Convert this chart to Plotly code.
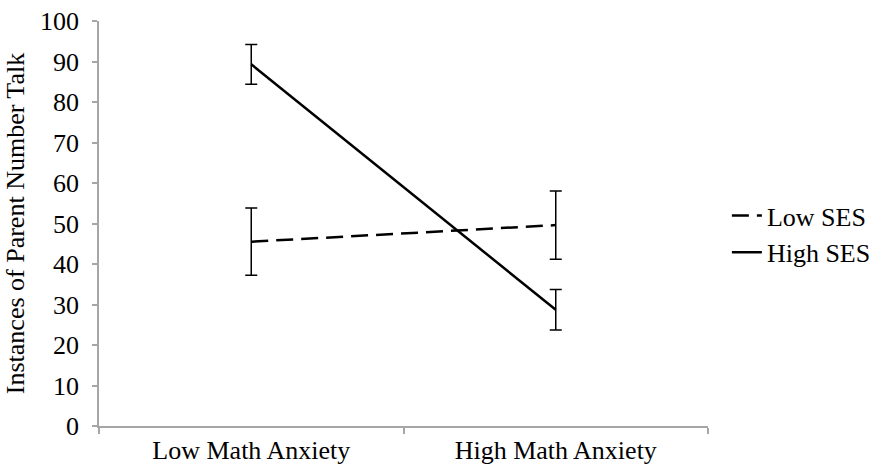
import plotly.graph_objects as go

categories = ["Low Math Anxiety", "High Math Anxiety"]
low_ses = [45.5, 49.6]
low_ses_err = [8.3, 8.4]
high_ses = [89.3, 28.7]
high_ses_err = [4.9, 5.0]
y_ticks = [0, 10, 20, 30, 40, 50, 60, 70, 80, 90, 100]

FONT = "Liberation Serif, Times New Roman, serif"
FS = 26

fig = go.Figure()
fig.add_trace(go.Scatter(
    x=categories, y=low_ses, name="Low SES", mode="lines",
    line=dict(color="black", width=2.5, dash="17px,8px"),
    error_y=dict(type="data", array=low_ses_err, visible=True,
                 color="black", thickness=1.5, width=6),
))
fig.add_trace(go.Scatter(
    x=categories, y=high_ses, name="High SES", mode="lines",
    line=dict(color="black", width=2.5),
    error_y=dict(type="data", array=high_ses_err, visible=True,
                 color="black", thickness=1.5, width=6),
))

fig.update_layout(
    width=875, height=465,
    margin=dict(l=99, r=167, t=21, b=39, autoexpand=False),
    paper_bgcolor="white", plot_bgcolor="white",
    font=dict(family=FONT, size=FS, color="black"),
    showlegend=True,
    legend=dict(x=1.031, xanchor="left", y=0.474, yanchor="middle",
                bgcolor="rgba(0,0,0,0)", font=dict(family=FONT, size=FS)),
    xaxis=dict(
        type="category", showgrid=False, showline=True, automargin=False,
        linecolor="#a6a6a6", linewidth=1.5,
        ticks="outside", tickson="boundaries", ticklen=6,
        tickcolor="#a6a6a6", tickwidth=1.5,
        tickfont=dict(family=FONT, size=FS), range=[-0.5, 1.5],
    ),
    yaxis=dict(
        range=[0, 100], tickvals=y_ticks, showgrid=False, zeroline=False,
        showline=True, automargin=False, linecolor="#a6a6a6", linewidth=1.5,
        ticks="outside", ticklen=5, tickcolor="#a6a6a6", tickwidth=1.5,
        ticklabelstandoff=8,
        tickfont=dict(family=FONT, size=FS),
        title=dict(text="Instances of Parent Number Talk",
                   font=dict(family=FONT, size=FS), standoff=8),
    ),
)

fig.write_html(
    "out.html",
    config={"displayModeBar": False},
    post_script="document.body.style.margin='0';document.body.style.overflow='hidden';",
)
